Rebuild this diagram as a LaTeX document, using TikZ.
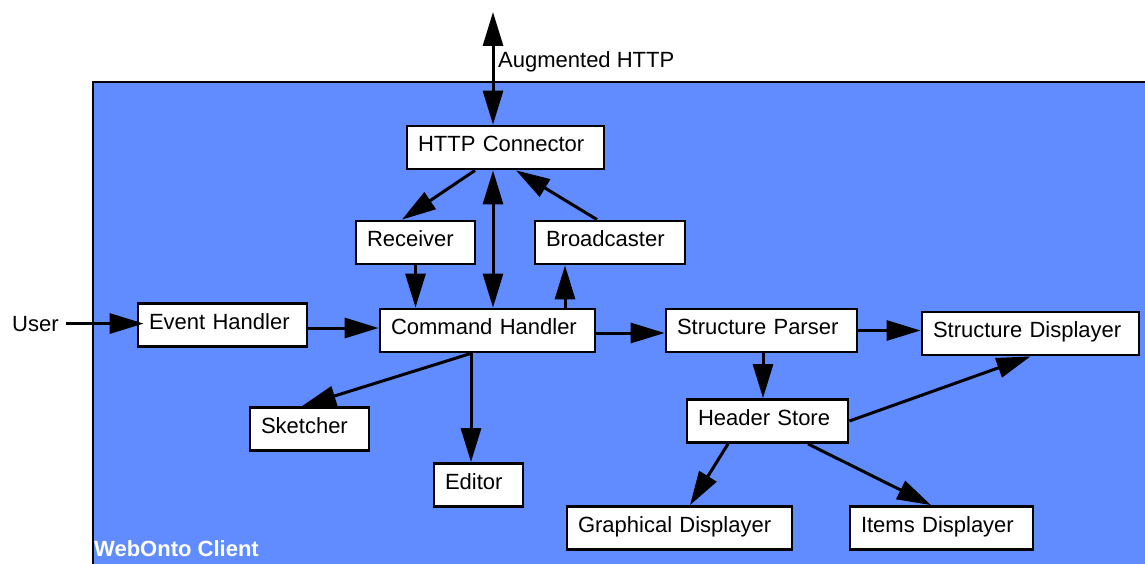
\documentclass[tikz,border=0pt]{standalone}
\usepackage{fontspec}
\setmainfont{Liberation Sans}
\usetikzlibrary{arrows.meta}
\definecolor{clientblue}{RGB}{96,140,255}
\tikzset{
  hd/.tip={Triangle[length=34pt,width=20pt]},
  blk/.style={draw,fill=white,line width=2.8pt,minimum height=43pt,inner xsep=11pt,
    text height=16pt,text depth=8pt,align=left},
  con/.style={line width=3pt,-hd},
}
\begin{document}
\begin{tikzpicture}[x=1pt,y=-1pt,font=\fontsize{22}{26}\selectfont]
\useasboundingbox (0,0) rectangle (1145,564);
\draw[line width=2.8pt,fill=clientblue] (93,82) rectangle (1170,590);
\node[anchor=base west,inner sep=0,white,font=\fontsize{22}{26}\selectfont\bfseries] (client) at (94,556) {WebOnto Client};
\node[anchor=base west,inner sep=0] (user) at (12,331) {User};
\node[anchor=base west,inner sep=0] (aug) at (498,68) {Augmented HTTP};
\foreach \n/\x/\y/\w/\t in {http/505.5/147.5/175/HTTP Connector,recv/415.5/242.5/97/Receiver,
  bcast/610/242.5/128/Broadcaster,evh/222.5/325/147/Event Handler,cmd/487.5/330.5/193/Command Handler,
  spar/761.5/330.5/169/Structure Parser,sdisp/1030.5/333.5/195/Structure Displayer,
  skt/309.5/429/97/Sketcher,edit/478.5/485/67/Editor,hdr/767.5/421/139/Header Store,
  gdisp/679.5/528/203/Graphical Displayer,idisp/941.5/528/161/Items Displayer}
  \node[blk,text width=\w pt] (\n) at (\x,\y) {\t};
\coordinate (net) at (493,12);
\draw[con,hd-hd] (net) -- (net |- http.north);
\draw[con] ([xshift=-30.5pt]http.south) -- ([xshift=-13.5pt]recv.north);
\draw[con] ([xshift=-13pt]bcast.north) -- ([xshift=10.5pt]http.south);
\draw[con,hd-hd] ([xshift=-12.5pt]http.south) -- ([xshift=5.5pt]cmd.north);
\draw[con] (recv.south) -- (recv.south |- cmd.north);
\draw[con] ([xshift=77.5pt]cmd.north) -- ([xshift=77.5pt]cmd.north |- bcast.south);
\draw[con] ([xshift=7pt]user.east) -- ([xshift=7pt]user.east -| evh.west);
\draw[con] ([yshift=-3pt]evh.east) -- ([yshift=-3pt]evh.east -| cmd.west);
\draw[con] ([yshift=-2.5pt]cmd.east) -- ([yshift=-2.5pt]cmd.east -| spar.west);
\draw[con] (spar.east) -- (spar.east -| sdisp.west);
\draw[con] ([xshift=1.5pt]spar.south) -- ([xshift=1.5pt]spar.south |- hdr.north);
\draw[con] (hdr.east) -- (sdisp.south);
\draw[con] ([xshift=-39.5pt]hdr.south) -- ([xshift=10.5pt]gdisp.north);
\draw[con] ([xshift=40.5pt]hdr.south) -- ([xshift=-10.5pt]idisp.north);
\draw[con] ([xshift=-16.5pt]cmd.south) -- ([xshift=-7.5pt]skt.north);
\draw[con] ([xshift=-16.5pt]cmd.south) -- ([xshift=-16.5pt]cmd.south |- edit.north);
\end{tikzpicture}
\end{document}
